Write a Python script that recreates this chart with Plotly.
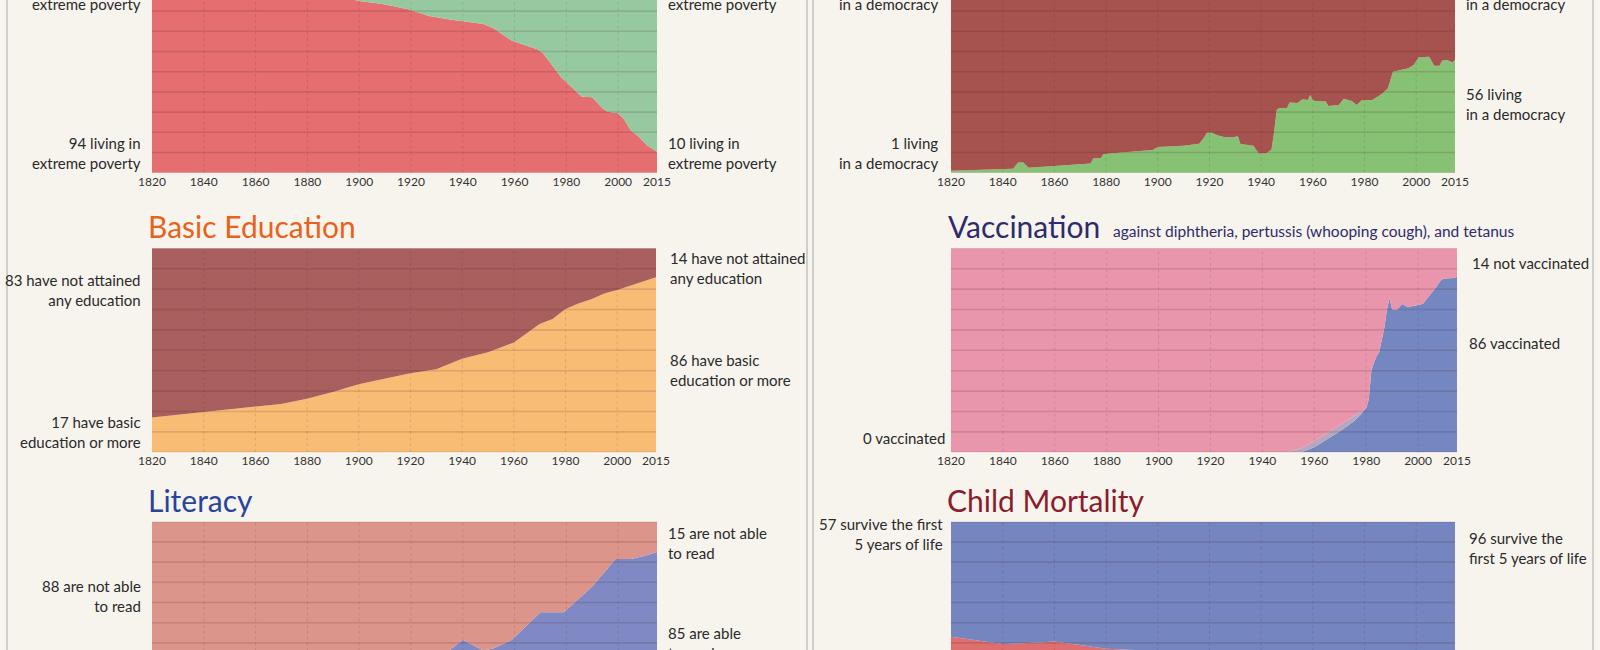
import plotly.graph_objects as go

W, H = 1600, 650
BG = '#f7f4ee'
FONT = 'Lato, "Open Sans", sans-serif'
TXT = '#2a2a2a'

def px(x):
    return x / W

def py(y):
    return 1 - y / H

# ---------------- data ----------------
tick_years = [1820, 1840, 1860, 1880, 1900, 1920, 1940, 1960, 1980, 2000, 2015]
grid_years = [1840, 1860, 1880, 1900, 1920, 1940, 1960, 1980, 2000]

pov_years = [1820, 1850, 1870, 1890, 1900, 1909, 1919, 1927, 1935, 1940, 1948, 1952, 1959, 1969,
             1971, 1978, 1982, 1986, 1990, 1994, 1996, 2000, 2002, 2005, 2008, 2011, 2015]
pov_extreme = [94, 92.5, 90.5, 88, 85, 83.5, 80.9, 77.6, 75.9, 74.9, 73.6, 71.4, 65.3, 61,
               59.1, 47.2, 42.2, 37.6, 37.3, 31.8, 30.2, 29.4, 26.9, 20.8, 17.8, 13.7, 10.4]

dem_years = [1820, 1844, 1846, 1848, 1850, 1860, 1868, 1874, 1875, 1878, 1879, 1888, 1898, 1900,
             1910, 1916, 1918, 1919, 1921, 1923, 1926, 1929, 1931, 1932, 1937, 1939, 1942, 1944,
             1945, 1946, 1947, 1950, 1951, 1954, 1956, 1958, 1959, 1960, 1961, 1965, 1966, 1970,
             1972, 1975, 1977, 1979, 1983, 1985, 1987, 1989, 1991, 1994, 1997, 1999, 2000, 2001,
             2005, 2007, 2009, 2010, 2012, 2014, 2015]
dem_share = [1.0, 2.0, 5.0, 5.0, 2.5, 3.3, 4.3, 4.5, 7.0, 7.3, 9.2, 10.0, 11.2, 12.7,
             13.4, 14.3, 17.5, 19.8, 19.8, 18.6, 17.5, 17.6, 18.0, 14.2, 13.4, 9.6, 9.6, 11.5,
             20.0, 31.0, 32.0, 32.0, 34.7, 34.5, 36.3, 36.0, 38.5, 36.0, 35.5, 35.2, 33.0, 33.5,
             36.6, 35.5, 33.5, 36.0, 36.0, 37.6, 39.3, 41.7, 50.0, 50.8, 51.7, 53.3, 55.5, 57.1,
             57.4, 53.0, 53.0, 55.4, 55.8, 54.5, 55.8]

edu_years = [1820, 1840, 1860, 1870, 1880, 1890, 1900, 1910, 1920, 1930, 1940, 1950, 1960,
             1970, 1975, 1980, 1985, 1990, 1995, 2000, 2005, 2010, 2015]
edu_basic = [17, 19.8, 22.4, 23.7, 26.3, 29.6, 33.3, 36, 38.7, 40.7, 45.9, 49, 53.8,
             62.9, 65.4, 70.3, 72.9, 75, 77.8, 79.6, 81.5, 83.7, 85.8]

vac_years = [1820, 1949, 1955, 1960, 1965, 1970, 1975, 1978, 1979, 1980, 1981, 1982, 1983, 1984,
             1985, 1986, 1987, 1988, 1989, 1990, 1991, 1992, 1993, 1994, 1995, 1996, 1997,
             1998, 1999, 2000, 2001, 2002, 2003, 2004, 2005, 2006, 2007, 2008, 2009, 2010,
             2011, 2012, 2013, 2014, 2015]
vac_done = [0, 0, 0, 2.5, 6.5, 10.5, 15, 18.5, 20.5, 21.5, 26, 40, 44, 47,
            49, 55, 61, 70, 75.5, 70, 70, 70, 71.5, 72.7, 72, 71.1, 71.5,
            71.7, 72, 72, 72.5, 73, 74.5, 76, 77.5, 79, 81, 83, 84.5, 85.2,
            85.2, 85.3, 85.3, 85.5, 86]
vac_fringe = [0, 0, 2, 3, 3, 3, 2.5, 1.5, 0.5, 0, 0, 0, 0, 0,
              0, 0, 0, 0, 0, 0, 0, 0, 0, 0, 0, 0, 0,
              0, 0, 0, 0, 0, 0, 0, 0, 0, 0, 0, 0, 0,
              0, 0, 0, 0, 0]

lit_years = [1820, 1850, 1870, 1900, 1910, 1920, 1930, 1935, 1940, 1948, 1952, 1959, 1970,
             1979, 1990, 1999, 2005, 2010, 2015]
lit_read = [12, 15, 19, 21, 23, 27, 33, 36.5, 41.5, 36.2, 37.4, 41.5, 55.2,
            55.2, 67.9, 81.5, 81.5, 83, 85]

cm_years = [1820, 1840, 1854, 1860, 1870, 1880, 1900, 1920, 1950, 1960, 1970, 1980, 1990,
            2000, 2010, 2015]
cm_die = [43, 39.4, 40.2, 40.7, 39, 37.1, 36, 33, 22.5, 18.5, 14.5, 11.5, 9.3,
          7.7, 5.5, 4.3]

# ---------------- layout geometry ----------------
panels = [
    dict(n=1, x0=152, x1=657, ytop=0, ybot=172.7, rng=[0, 172.7 / 2.02], ticks=True),
    dict(n=2, x0=951, x1=1455, ytop=0, ybot=172.7, rng=[0, 172.7 / 2.02], ticks=True),
    dict(n=3, x0=152, x1=656, ytop=248.3, ybot=452.3, rng=[0, 100], ticks=True),
    dict(n=4, x0=951, x1=1457, ytop=248.3, ybot=452.3, rng=[0, 100], ticks=True),
    dict(n=5, x0=152, x1=657, ytop=521.7, ybot=650, rng=[100 - 128.3 / 2.02, 100], ticks=False),
    dict(n=6, x0=951, x1=1455, ytop=521.7, ybot=650, rng=[100 - 128.3 / 2.02, 100], ticks=False),
]

fig = go.Figure()

def ax(n, s):
    return s if n == 1 else f'{s}{n}'

def stack(n, years, layers):
    for vals, color in layers:
        fig.add_trace(go.Scatter(
            x=years, y=vals, stackgroup=f'g{n}', mode='lines',
            line=dict(width=0), fillcolor=color, hoverinfo='skip', showlegend=False,
            xaxis=ax(n, 'x'), yaxis=ax(n, 'y')))

stack(1, pov_years, [(pov_extreme, '#e46e70'), ([100 - v for v in pov_extreme], '#97c9a0')])
stack(2, dem_years, [(dem_share, '#87c174'), ([100 - v for v in dem_share], '#a6534f')])
stack(3, edu_years, [(edu_basic, '#f8bc75'), ([100 - v for v in edu_basic], '#aa5f5f')])
stack(4, vac_years, [(vac_done, '#7587c1'), (vac_fringe, '#b8a8bf'),
                     ([100 - a - b for a, b in zip(vac_done, vac_fringe)], '#e996ac')])
stack(5, lit_years, [(lit_read, '#8189c5'), ([100 - v for v in lit_read], '#dc958a')])
stack(6, cm_years, [(cm_die, '#df6f6f'), ([100 - v for v in cm_die], '#7485c0')])

layout_axes = {}
shapes = []
for p in panels:
    n = p['n']
    layout_axes[ax(n, 'xaxis')] = dict(
        domain=[px(p['x0']), px(p['x1'])], range=[1820, 2015], anchor=ax(n, 'y'),
        showgrid=False, zeroline=False, showline=False, ticks='', automargin=False,
        tickvals=tick_years, ticktext=[str(t) for t in tick_years],
        showticklabels=p['ticks'], tickfont=dict(family=FONT, size=12, color='#333'),
        fixedrange=True)
    layout_axes[ax(n, 'yaxis')] = dict(
        domain=[py(p['ybot']), py(p['ytop'])], range=p['rng'], anchor=ax(n, 'x'),
        showgrid=False, zeroline=False, showline=False, showticklabels=False,
        automargin=False, fixedrange=True)
    for v in range(0, 101, 10):
        shapes.append(dict(type='line', xref=ax(n, 'x'), yref=ax(n, 'y'),
                           x0=1820, x1=2015, y0=v, y1=v, layer='above',
                           line=dict(color='rgba(60,20,20,0.14)', width=1.6)))
    for yr in grid_years:
        shapes.append(dict(type='line', xref=ax(n, 'x'), yref=ax(n, 'y'),
                           x0=yr, x1=yr, y0=0, y1=100, layer='above',
                           line=dict(color='rgba(60,20,20,0.13)', width=1, dash='dot')))

for bx in [7, 807, 813, 1593]:
    shapes.append(dict(type='line', xref='paper', yref='paper', x0=px(bx), x1=px(bx),
                       y0=0, y1=1, line=dict(color='#d3cdc9', width=2), layer='below'))

annotations = []

def label(text, x, y, side, size=15, color=TXT):
    annotations.append(dict(
        text=text, xref='paper', yref='paper', x=px(x), y=py(y), showarrow=False,
        xanchor='right' if side == 'L' else 'left', align='right' if side == 'L' else 'left',
        yanchor='middle', font=dict(family=FONT, size=size, color=color)))

def title(text, x, y, color, size=30):
    annotations.append(dict(
        text=text, xref='paper', yref='paper', x=px(x), y=py(y), showarrow=False,
        xanchor='left', yanchor='middle', font=dict(family=FONT, size=size, color=color)))

# Extreme poverty
label('6 not living in<br>extreme poverty', 143, -5.8, 'L')
label('90 not living in<br>extreme poverty', 666, -5.8, 'R')
label('94 living in<br>extreme poverty', 143, 152.5, 'L')
label('10 living in<br>extreme poverty', 666, 152.5, 'R')

# Democracy
label('99 not living<br>in a democracy', 940, -5.8, 'L')
label('44 not living<br>in a democracy', 1464, -5.8, 'R')
label('1 living<br>in a democracy', 940, 152.5, 'L')
label('56 living<br>in a democracy', 1464, 104, 'R')

# Basic education
title('Basic Education', 146, 226, '#e8621c')
label('83 have not attained<br>any education', 143, 290, 'L')
label('17 have basic<br>education or more', 143, 432, 'L')
label('14 have not attained<br>any education', 668, 268, 'R')
label('86 have basic<br>education or more', 668, 369.5, 'R')

# Vaccination
title('Vaccination', 946, 226, '#2e2b6c')
annotations.append(dict(
    text='against diphtheria, pertussis (whooping cough), and tetanus',
    xref='paper', yref='paper', x=px(1111), y=py(231), showarrow=False,
    xanchor='left', yanchor='middle', font=dict(family=FONT, size=15.5, color='#2e2b6c')))
label('14 not vaccinated', 1470, 263, 'R')
label('86 vaccinated', 1467, 343, 'R')
label('0 vaccinated', 947, 438, 'L')

# Literacy
title('Literacy', 146, 500, '#27449b')
label('88 are not able<br>to read', 143, 595.5, 'L')
label('15 are not able<br>to read', 666, 543, 'R')
label('85 are able<br>to read', 666, 642.5, 'R')

# Child mortality
title('Child Mortality', 945, 500, '#8a1c2c')
label('57 survive the first<br>5 years of life', 945, 534, 'L')
label('96 survive the<br>first 5 years of life', 1467, 548, 'R')

fig.update_layout(
    width=W, height=H, autosize=False,
    margin=dict(l=0, r=0, t=0, b=0, pad=0, autoexpand=False),
    paper_bgcolor=BG, plot_bgcolor=BG, showlegend=False,
    font=dict(family=FONT, color=TXT),
    shapes=shapes, annotations=annotations, **layout_axes)

fig.write_html(
    'out.html',
    config={'displayModeBar': False, 'responsive': False},
    post_script="document.body.style.margin='0';document.body.style.overflow='hidden';"
                "document.documentElement.style.overflow='hidden';",
)
